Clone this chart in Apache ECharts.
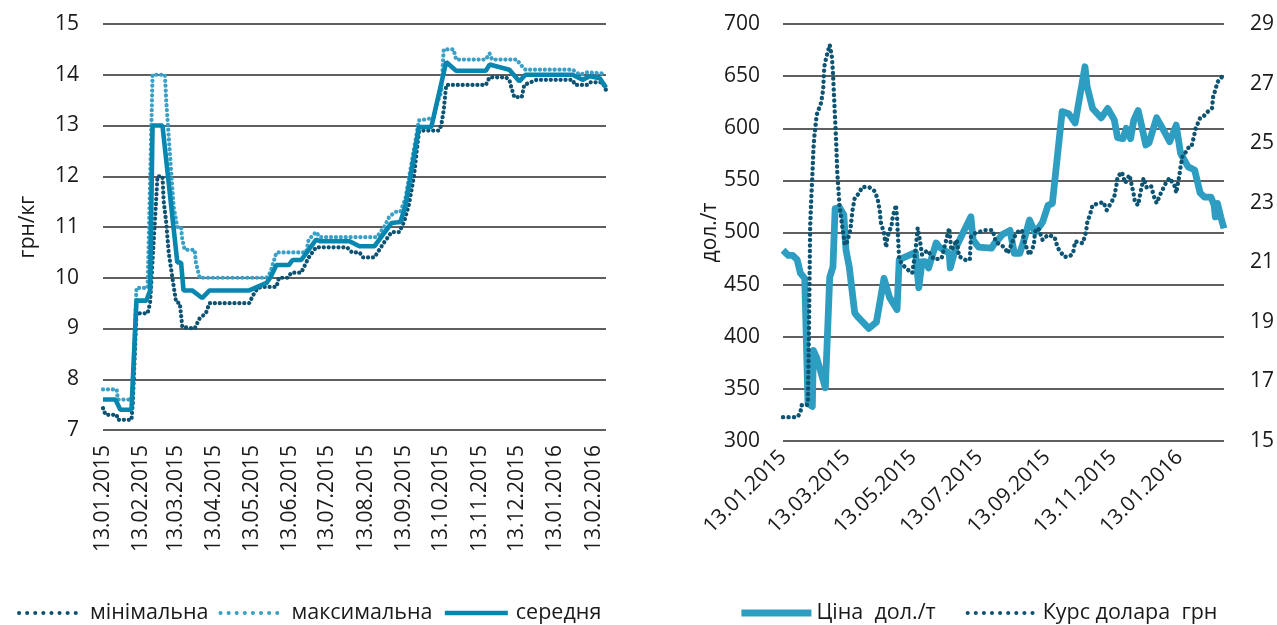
<!DOCTYPE html>
<html><head><meta charset="utf-8">
<script src="https://cdn.jsdelivr.net/npm/echarts@6/dist/echarts.min.js"></script>
<style>html,body{margin:0;padding:0;background:#fff}#c{width:1277px;height:625px}</style>
</head><body><div id="c"></div><script>
// ---------- data ----------
const leftTickLabels = ['13.01.2015','13.02.2015','13.03.2015','13.04.2015','13.05.2015','13.06.2015','13.07.2015','13.08.2015','13.09.2015','13.10.2015','13.11.2015','13.12.2015','13.01.2016','13.02.2016'];
const rightTickLabels = ['13.01.2015','13.03.2015','13.05.2015','13.07.2015','13.09.2015','13.11.2015','13.01.2016'];
const axisStart = '2015-01-13';
const axisEnd = '2016-02-23';

const minPrice = [
['2015-01-13',7.43],['2015-01-15',7.3],['2015-01-24',7.3],['2015-01-25',7.2],['2015-02-05',7.2],['2015-02-06',7.5],['2015-02-09',9.3],['2015-02-18',9.3],['2015-02-20',9.5],['2015-02-26',12.0],['2015-03-02',12.0],['2015-03-03',11.5],['2015-03-05',11.1],['2015-03-07',10.5],['2015-03-10',10.0],['2015-03-13',9.52],['2015-03-16',9.5],['2015-03-17',9.27],['2015-03-18',9.03],['2015-03-28',9.0],['2015-04-01',9.2],['2015-04-06',9.3],['2015-04-09',9.5],['2015-05-11',9.5],['2015-05-14',9.65],['2015-05-18',9.8],['2015-05-22',9.82],['2015-06-02',9.82],['2015-06-04',10.0],['2015-06-11',10.0],['2015-06-14',10.1],['2015-06-22',10.1],['2015-06-28',10.4],['2015-07-04',10.6],['2015-07-29',10.6],['2015-08-02',10.5],['2015-08-08',10.5],['2015-08-11',10.4],['2015-08-20',10.4],['2015-08-28',10.7],['2015-09-03',10.9],['2015-09-09',10.9],['2015-09-13',11.1],['2015-09-17',11.45],['2015-09-21',12.0],['2015-09-23',12.45],['2015-09-25',12.87],['2015-09-27',12.9],['2015-10-11',12.9],['2015-10-13',13.0],['2015-10-15',13.3],['2015-10-17',13.8],['2015-11-18',13.8],['2015-11-21',13.95],['2015-12-04',13.95],['2015-12-07',13.9],['2015-12-08',13.8],['2015-12-11',13.56],['2015-12-17',13.56],['2015-12-19',13.8],['2015-12-29',13.9],['2016-01-27',13.9],['2016-01-29',13.8],['2016-02-08',13.8],['2016-02-10',13.85],['2016-02-20',13.85],['2016-02-23',13.7]
];
const maxPrice = [
['2015-01-13',7.8],['2015-01-24',7.8],['2015-01-25',7.6],['2015-02-05',7.6],['2015-02-06',7.9],['2015-02-09',9.8],['2015-02-18',9.8],['2015-02-22',14.0],['2015-03-04',14.0],['2015-03-05',13.5],['2015-03-07',12.8],['2015-03-09',12.1],['2015-03-11',11.4],['2015-03-14',11.0],['2015-03-17',11.0],['2015-03-18',10.75],['2015-03-20',10.55],['2015-03-28',10.55],['2015-03-29',10.3],['2015-04-01',10.0],['2015-05-25',10.0],['2015-05-28',10.1],['2015-06-02',10.5],['2015-06-26',10.5],['2015-06-28',10.75],['2015-07-04',10.9],['2015-07-07',10.8],['2015-08-22',10.8],['2015-08-28',11.0],['2015-09-01',11.2],['2015-09-06',11.3],['2015-09-10',11.3],['2015-09-14',11.55],['2015-09-25',13.1],['2015-10-07',13.15],['2015-10-09',13.4],['2015-10-13',13.65],['2015-10-15',14.5],['2015-10-23',14.5],['2015-10-25',14.3],['2015-11-18',14.3],['2015-11-21',14.42],['2015-11-23',14.3],['2015-12-13',14.3],['2015-12-16',14.2],['2015-12-20',14.1],['2016-01-27',14.1],['2016-02-02',14.0],['2016-02-08',14.05],['2016-02-23',14.02]
];
const avgPrice = [
['2015-01-13',7.6],['2015-01-23',7.6],['2015-01-27',7.4],['2015-02-05',7.4],['2015-02-09',9.55],['2015-02-17',9.55],['2015-02-20',9.75],['2015-02-22',13.0],['2015-03-02',13.0],['2015-03-14',10.3],['2015-03-17',10.3],['2015-03-19',9.75],['2015-03-26',9.75],['2015-04-03',9.6],['2015-04-09',9.75],['2015-05-11',9.75],['2015-05-25',9.9],['2015-05-28',10.0],['2015-06-02',10.25],['2015-06-12',10.25],['2015-06-15',10.35],['2015-06-22',10.35],['2015-07-04',10.75],['2015-07-07',10.72],['2015-07-31',10.72],['2015-08-08',10.62],['2015-08-20',10.62],['2015-09-03',11.08],['2015-09-10',11.1],['2015-09-14',11.4],['2015-09-25',12.97],['2015-10-05',12.97],['2015-10-17',14.25],['2015-10-25',14.08],['2015-11-18',14.08],['2015-11-21',14.2],['2015-12-07',14.1],['2015-12-15',13.87],['2015-12-20',14.0],['2016-01-27',14.0],['2016-02-04',13.9],['2016-02-10',13.97],['2016-02-18',13.93],['2016-02-23',13.75]
];
const priceUsd = [
['2015-01-13',483],['2015-01-18',478],['2015-01-22',478],['2015-01-26',474],['2015-01-29',461],['2015-02-02',456],['2015-02-05',336],['2015-02-09',333],['2015-02-10',387],['2015-02-13',380],['2015-02-21',351],['2015-02-25',457],['2015-02-28',467],['2015-03-02',523],['2015-03-06',524],['2015-03-10',517],['2015-03-12',483],['2015-03-15',467],['2015-03-20',423],['2015-03-22',420],['2015-04-02',408],['2015-04-09',414],['2015-04-16',456],['2015-04-21',438],['2015-04-28',426],['2015-04-30',474],['2015-05-15',481],['2015-05-18',447],['2015-05-21',472],['2015-05-24',472],['2015-05-27',466],['2015-06-03',490],['2015-06-06',486],['2015-06-15',480],['2015-06-16',466],['2015-06-21',485],['2015-06-27',498],['2015-07-05',515],['2015-07-07',493],['2015-07-12',486],['2015-07-24',485],['2015-07-27',490],['2015-07-30',493],['2015-08-03',498],['2015-08-10',502],['2015-08-14',480],['2015-08-19',480],['2015-08-23',493],['2015-08-28',512],['2015-09-02',500],['2015-09-07',507],['2015-09-09',510],['2015-09-14',526],['2015-09-18',528],['2015-09-27',616],['2015-10-03',614],['2015-10-09',605],['2015-10-18',659],['2015-10-20',640],['2015-10-25',619],['2015-11-02',610],['2015-11-08',619],['2015-11-14',608],['2015-11-17',591],['2015-11-22',590],['2015-11-25',600],['2015-11-29',590],['2015-12-02',608],['2015-12-06',617],['2015-12-08',608],['2015-12-13',584],['2015-12-16',586],['2015-12-23',610],['2015-12-31',595],['2016-01-04',587],['2016-01-10',603],['2016-01-14',576],['2016-01-21',563],['2016-01-27',560],['2016-02-01',538],['2016-02-05',534],['2016-02-11',534],['2016-02-14',526],['2016-02-15',515],['2016-02-17',528],['2016-02-20',515],['2016-02-23',504]
];
const usdRate = [
['2015-01-13',15.8],['2015-01-26',15.8],['2015-01-29',15.94],['2015-01-30',16.2],['2015-02-04',16.2],['2015-02-05',16.4],['2015-02-06',19.0],['2015-02-07',22.2],['2015-02-08',23.1],['2015-02-09',23.9],['2015-02-10',24.8],['2015-02-11',25.27],['2015-02-13',25.95],['2015-02-17',26.35],['2015-02-19',26.8],['2015-02-20',27.57],['2015-02-22',27.9],['2015-02-25',28.3],['2015-02-27',27.9],['2015-02-28',27.35],['2015-03-01',26.55],['2015-03-02',25.78],['2015-03-03',25.0],['2015-03-04',24.0],['2015-03-06',22.92],['2015-03-09',22.08],['2015-03-11',21.58],['2015-03-13',21.68],['2015-03-16',22.08],['2015-03-18',22.75],['2015-03-20',23.15],['2015-03-24',23.32],['2015-03-27',23.53],['2015-04-02',23.53],['2015-04-07',23.4],['2015-04-10',23.15],['2015-04-12',22.75],['2015-04-13',22.35],['2015-04-16',21.98],['2015-04-18',21.5],['2015-04-19',21.85],['2015-04-23',22.25],['2015-04-24',22.52],['2015-04-27',22.92],['2015-04-28',22.48],['2015-04-29',21.75],['2015-04-30',21.08],['2015-05-06',20.8],['2015-05-12',20.64],['2015-05-15',21.4],['2015-05-17',22.15],['2015-05-19',21.75],['2015-05-21',21.25],['2015-05-26',21.4],['2015-06-01',21.1],['2015-06-08',21.13],['2015-06-15',22.15],['2015-06-17',21.4],['2015-06-22',21.75],['2015-06-24',21.2],['2015-06-30',21.08],['2015-07-04',21.08],['2015-07-05',21.85],['2015-07-09',21.98],['2015-07-18',22.08],['2015-07-25',22.08],['2015-07-28',21.68],['2015-08-05',21.5],['2015-08-08',21.3],['2015-08-14',21.85],['2015-08-17',22.02],['2015-08-21',22.08],['2015-08-23',21.75],['2015-08-26',21.4],['2015-08-28',21.25],['2015-09-01',21.58],['2015-09-02',22.02],['2015-09-05',22.15],['2015-09-09',21.75],['2015-09-14',21.92],['2015-09-20',21.85],['2015-09-23',21.48],['2015-09-29',21.18],['2015-10-04',21.2],['2015-10-07',21.3],['2015-10-09',21.7],['2015-10-16',21.64],['2015-10-19',22.02],['2015-10-20',22.32],['2015-10-23',22.65],['2015-10-25',22.92],['2015-11-01',22.99],['2015-11-04',23.02],['2015-11-07',22.75],['2015-11-11',22.99],['2015-11-14',23.2],['2015-11-16',23.6],['2015-11-17',23.87],['2015-11-21',24.03],['2015-11-24',23.66],['2015-11-28',23.93],['2015-12-02',23.26],['2015-12-03',23.02],['2015-12-06',22.92],['2015-12-08',23.33],['2015-12-11',23.83],['2015-12-14',23.5],['2015-12-18',23.55],['2015-12-21',23.15],['2015-12-23',22.99],['2015-12-27',23.33],['2016-01-01',23.7],['2016-01-04',23.83],['2016-01-09',23.53],['2016-01-10',23.33],['2016-01-13',23.93],['2016-01-14',24.2],['2016-01-16',24.6],['2016-01-19',24.7],['2016-01-21',24.84],['2016-01-24',24.87],['2016-01-26',25.17],['2016-01-28',25.5],['2016-02-01',25.84],['2016-02-04',25.88],['2016-02-06',26.0],['2016-02-10',26.11],['2016-02-12',26.18],['2016-02-13',26.55],['2016-02-15',26.78],['2016-02-17',27.05],['2016-02-21',27.22],['2016-02-23',27.28]
];

// ---------- helpers ----------
function ts(s){ const p = s.split('-'); return new Date(+p[0], +p[1]-1, +p[2]).getTime(); }
function tsDMY(s){ const p = s.split('.'); return new Date(+p[2], +p[1]-1, +p[0]).getTime(); }
function fmt(v){ const d = new Date(v); return String(d.getDate()).padStart(2,'0') + '.' + String(d.getMonth()+1).padStart(2,'0') + '.' + d.getFullYear(); }
const toSeries = arr => arr.map(p => [ts(p[0]), p[1]]);

const FONT = "'Open Sans', sans-serif";
const TXT = '#1a1a1a';
const GRID_LINE = {lineStyle: {color: '#2a2a2a', width: 1.5}};
const lbl = (extra) => Object.assign({color: TXT, fontSize: 21, fontFamily: FONT}, extra);
const DOTS = {type: [0.1, 4.8], cap: 'round'};
const LEGEND_DOTS = {type: [0.1, 8], cap: 'round', width: 4};

const C_MIN = '#0C5273', C_MAX = '#3BA0C8', C_AVG = '#0786AF', C_PRICE = '#2E9DC2', C_RATE = '#0C5472';

const chart = echarts.init(document.getElementById('c'), null, {renderer: 'canvas'});
chart.setOption({
  animation: false,
  backgroundColor: '#fff',
  textStyle: {fontFamily: FONT},
  grid: [
    {left: 103, top: 24, width: 503, height: 406},
    {left: 783, top: 24, width: 443, height: 417}
  ],
  xAxis: [
    {type: 'value', gridIndex: 0, min: ts(axisStart), max: ts(axisEnd), scale: true,
     axisLine: {show: false}, axisTick: {show: false}, splitLine: {show: false},
     axisLabel: lbl({customValues: leftTickLabels.map(tsDMY), formatter: v => fmt(v), rotate: 90, margin: 15})},
    {type: 'value', gridIndex: 1, min: ts(axisStart), max: ts(axisEnd), scale: true,
     axisLine: {show: false}, axisTick: {show: false}, splitLine: {show: false},
     axisLabel: lbl({customValues: rightTickLabels.map(tsDMY), formatter: v => fmt(v), rotate: 45, margin: 13})}
  ],
  yAxis: [
    {type: 'value', gridIndex: 0, min: 7, max: 15, interval: 1,
     name: 'грн/кг', nameLocation: 'middle', nameRotate: 90, nameGap: 64,
     nameTextStyle: {color: TXT, fontSize: 21, fontFamily: FONT},
     axisLine: {show: false}, axisTick: {show: false}, splitLine: GRID_LINE,
     axisLabel: lbl({margin: 24})},
    {type: 'value', gridIndex: 1, min: 300, max: 700, interval: 50,
     name: 'дол./т', nameLocation: 'middle', nameRotate: 90, nameGap: 62,
     nameTextStyle: {color: TXT, fontSize: 21, fontFamily: FONT},
     axisLine: {show: false}, axisTick: {show: false}, splitLine: GRID_LINE,
     axisLabel: lbl({margin: 23})},
    {type: 'value', gridIndex: 1, position: 'right', min: 15, max: 29, interval: 2,
     axisLine: {show: false}, axisTick: {show: false}, splitLine: {show: false},
     axisLabel: lbl({margin: 26})}
  ],
  legend: [
    {left: 12, top: 597, itemWidth: 63, itemHeight: 12, itemGap: 10,
     itemStyle: {opacity: 0}, lineStyle: {width: 'inherit'},
     data: [
       {name: 'мінімальна', lineStyle: LEGEND_DOTS},
       {name: 'максимальна', lineStyle: LEGEND_DOTS},
       {name: 'середня'}
     ],
     textStyle: {color: TXT, fontSize: 21.5, fontFamily: FONT, padding: [0, 0, 0, 3]}},
    {left: 733, top: 597, itemWidth: 70, itemHeight: 12, itemGap: 30,
     itemStyle: {opacity: 0}, lineStyle: {width: 'inherit'},
     data: [
       {name: 'Ціна  дол./т'},
       {name: 'Курс долара  грн', lineStyle: LEGEND_DOTS}
     ],
     textStyle: {color: TXT, fontSize: 21.5, fontFamily: FONT, padding: [0, 0, 0, 0]}}
  ],
  series: [
    {name: 'мінімальна', type: 'line', xAxisIndex: 0, yAxisIndex: 0, data: toSeries(minPrice),
     symbol: 'none', showSymbol: false, itemStyle: {color: C_MIN},
     lineStyle: Object.assign({color: C_MIN, width: 4.2}, DOTS)},
    {name: 'максимальна', type: 'line', xAxisIndex: 0, yAxisIndex: 0, data: toSeries(maxPrice),
     symbol: 'none', showSymbol: false, itemStyle: {color: C_MAX},
     lineStyle: Object.assign({color: C_MAX, width: 4.2}, DOTS)},
    {name: 'середня', type: 'line', xAxisIndex: 0, yAxisIndex: 0, data: toSeries(avgPrice),
     symbol: 'none', showSymbol: false, itemStyle: {color: C_AVG},
     lineStyle: {color: C_AVG, width: 4.6}},
    {name: 'Ціна  дол./т', type: 'line', xAxisIndex: 1, yAxisIndex: 1, data: toSeries(priceUsd),
     symbol: 'none', showSymbol: false, itemStyle: {color: C_PRICE},
     lineStyle: {color: C_PRICE, width: 6.8, join: 'round'}},
    {name: 'Курс долара  грн', type: 'line', xAxisIndex: 1, yAxisIndex: 2, data: toSeries(usdRate),
     symbol: 'none', showSymbol: false, itemStyle: {color: C_RATE},
     lineStyle: Object.assign({color: C_RATE, width: 4.4}, {type: [0.1, 5.4], cap: 'round'})}
  ]
});
</script></body></html>
